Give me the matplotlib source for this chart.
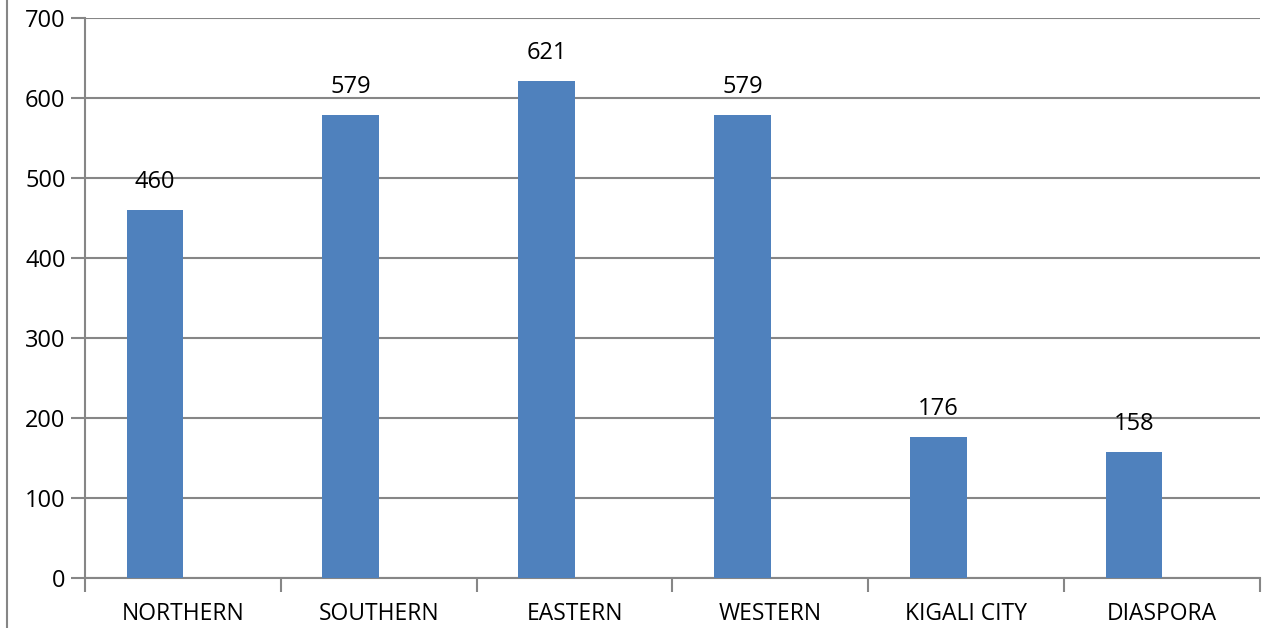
import matplotlib
matplotlib.use("Agg")
import matplotlib.pyplot as plt
from matplotlib.lines import Line2D

categories = ["NORTHERN", "SOUTHERN", "EASTERN", "WESTERN", "KIGALI CITY", "DIASPORA"]
values = [460, 579, 621, 579, 176, 158]
yticks = [0, 100, 200, 300, 400, 500, 600, 700]

plt.rcParams['font.family'] = ['Open Sans', 'DejaVu Sans']
W, H = 1267, 628
fig = plt.figure(figsize=(W/100, H/100), dpi=100)
ax = fig.add_axes([85/W, 1-578/H, (1260-85)/W, (578-18)/H])

grey = "#868686"
x = list(range(len(categories)))
offset = -0.143
bar_x = [xi + offset for xi in x]
ax.bar(bar_x, values, width=0.29, color="#4F81BD", zorder=3)
for bx, v in zip(bar_x, values):
    ax.text(bx, v + 20, str(v), ha="center", va="bottom", fontsize=17, color="black")

ax.set_xlim(-0.5, len(categories) - 0.5)
ax.set_ylim(0, 700)
ax.set_yticks(yticks)
ax.set_yticklabels([str(t) for t in yticks], fontsize=17)
ax.yaxis.grid(True, color=grey, linewidth=1.5, zorder=0)
ax.set_axisbelow(True)

ax.set_xticks(x)
ax.set_xticklabels(categories, fontsize=16.5)
ax.tick_params(axis="x", length=0, pad=17)
ax.set_xticks([i - 0.5 for i in range(len(categories) + 1)], minor=True)
ax.tick_params(axis="x", which="minor", length=10, width=1.5, color=grey, direction="out")
ax.tick_params(axis="y", length=10, width=1.5, color=grey, direction="out", pad=4)

for s in ["top", "right"]:
    ax.spines[s].set_visible(False)
for s in ["left", "bottom"]:
    ax.spines[s].set_color(grey)
    ax.spines[s].set_linewidth(1.5)

fig.add_artist(Line2D([7/W, 7/W], [0, 1], transform=fig.transFigure, color=grey, linewidth=1.5))

fig.savefig("out.png", dpi=100)
